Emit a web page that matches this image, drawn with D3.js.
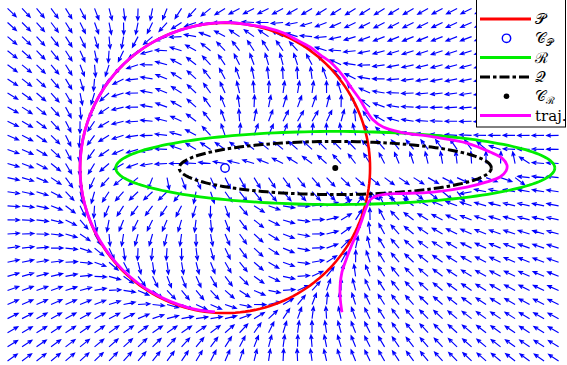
<!DOCTYPE html>
<html><head><meta charset="utf-8">
<script src="https://cdn.jsdelivr.net/npm/d3@7"></script>
<style>body{margin:0;background:#fff}svg{display:block}</style>
</head><body>
<script>
const W = 567, H = 365;

// visible window, data units
const xDomain = [-7.76, 11.79];
const yDomain = [-6.79, 5.79];

// desired path P: circle [cx, cy, r]
const circleP = [0, 0, 5];
// repulsive boundary Q and reactive boundary R: ellipses [cx, cy, a, b]
const ellipseQ = [3.8, 0, 5.38, 0.915];
const ellipseR = [3.8, 0, 7.57, 1.26];
// singular points of the two guiding fields
const pointCP = [0, 0];
const pointCR = [3.8, 0];

// quiver mesh: [first, last, count]
const meshX = [-7.5, 11.5, 39];
const meshY = [5.5, -6.65, 26];
// field gains: [path gain, obstacle gain]
const gains = [3, 1];

// simulated robot trajectory
const trajX = [4.03, 3.97, 3.97, 4.03, 4.17, 4.34, 4.55, 4.72, 4.86, 5.00, 5.21, 5.59, 6.03, 7.17, 8.34, 9.03, 9.48, 9.69, 9.72, 9.55, 9.14, 8.34, 7.17, 6.03, 5.45, 5.10, 4.86, 4.66, 4.41, 4.17, 3.90, 3.62, 3.28, 2.93, 2.48, 2.00, 1.45, 0.86, 0.00, -1.29, -2.50, -3.54, -4.33, -4.83, -5.00, -4.83, -4.32, -3.52, -2.48, -1.28, -0.35];
const trajY = [-4.97, -4.48, -4.03, -3.59, -3.17, -2.72, -2.24, -1.79, -1.38, -1.10, -0.97, -0.90, -0.88, -0.83, -0.66, -0.48, -0.31, -0.10, 0.10, 0.34, 0.55, 0.86, 1.07, 1.24, 1.41, 1.66, 2.00, 2.34, 2.69, 3.03, 3.38, 3.66, 3.90, 4.17, 4.41, 4.66, 4.83, 4.93, 5.02, 4.83, 4.33, 3.54, 2.50, 1.29, 0.00, -1.29, -2.49, -3.52, -4.31, -4.81, -4.96];

const legendItems = ["P", "CP", "R", "Q", "CR", "traj"];

const x = d3.scaleLinear().domain(xDomain).range([0, W]);
const y = d3.scaleLinear().domain(yDomain).range([H, 0]);

const svg = d3.select("body").append("svg").attr("width", W).attr("height", H);

// ---------- composite guiding vector field ----------
function unit(v) { const n = Math.hypot(v[0], v[1]) || 1; return [v[0] / n, v[1] / n]; }
function bumpSide(t) { return t > 0 ? Math.exp(-1 / t) : 0; }
function field(px, py) {
  const [cx, cy, r] = circleP;
  const dx = px - cx, dy = py - cy;
  const phiP = (dx * dx + dy * dy) / (r * r) - 1;
  const n = unit([dx, dy]);
  const vP = unit([-n[1] - gains[0] * phiP * n[0], n[0] - gains[0] * phiP * n[1]]);

  const [qx, qy, qa, qb] = ellipseQ;
  const ex = (px - qx) / qa, ey = (py - qy) / qb;
  const phiQ = ex * ex + ey * ey - 1;
  const m = unit([ex / qa, ey / qb]);
  const vQ = unit([-m[1] + gains[1] * m[0], m[0] + gains[1] * m[1]]);

  const s = bumpSide(1 - phiQ) / (bumpSide(1 - phiQ) + bumpSide(phiQ));
  return unit([(1 - s) * vP[0] + s * vQ[0], (1 - s) * vP[1] + s * vQ[1]]);
}

const gx = d3.range(meshX[2]).map(i => meshX[0] + i * (meshX[1] - meshX[0]) / (meshX[2] - 1));
const gy = d3.range(meshY[2]).map(j => meshY[0] + j * (meshY[1] - meshY[0]) / (meshY[2] - 1));
const arrows = [];
gy.forEach(yy => gx.forEach(xx => arrows.push({ x: xx, y: yy, v: field(xx, yy) })));

const arrowLen = 0.41, headLen = 4.5, headAng = 0.4;
svg.append("g").selectAll("path").data(arrows).join("path")
  .attr("fill", "none").attr("stroke", "#0000ff").attr("stroke-width", 1.15)
  .attr("d", d => {
    const x0 = x(d.x), y0 = y(d.y);
    const x1 = x(d.x + arrowLen * d.v[0]), y1 = y(d.y + arrowLen * d.v[1]);
    const a = Math.atan2(y1 - y0, x1 - x0);
    const h1 = [x1 - headLen * Math.cos(a - headAng), y1 - headLen * Math.sin(a - headAng)];
    const h2 = [x1 - headLen * Math.cos(a + headAng), y1 - headLen * Math.sin(a + headAng)];
    return `M${x0},${y0}L${x1},${y1}M${h1[0]},${h1[1]}L${x1},${y1}L${h2[0]},${h2[1]}`;
  });

// ---------- curves ----------
const angles = d3.range(0, 361, 2).map(a => a * Math.PI / 180);
const line = d3.line().x(d => x(d[0])).y(d => y(d[1]));

svg.append("path").datum(angles.map(t => [circleP[0] + circleP[2] * Math.cos(t), circleP[1] + circleP[2] * Math.sin(t)]))
  .attr("d", line).attr("fill", "none").attr("stroke", "#ff0000").attr("stroke-width", 2.6);

svg.append("circle").attr("cx", x(pointCP[0])).attr("cy", y(pointCP[1])).attr("r", 4.2)
  .attr("fill", "none").attr("stroke", "#0000ff").attr("stroke-width", 1.4);

svg.append("path").datum(angles.map(t => [ellipseR[0] + ellipseR[2] * Math.cos(t), ellipseR[1] + ellipseR[3] * Math.sin(t)]))
  .attr("d", line).attr("fill", "none").attr("stroke", "#00ee00").attr("stroke-width", 2.8);

svg.append("path").datum(angles.map(t => [ellipseQ[0] + ellipseQ[2] * Math.cos(t), ellipseQ[1] + ellipseQ[3] * Math.sin(t)]))
  .attr("d", line).attr("fill", "none").attr("stroke", "#000").attr("stroke-width", 3)
  .attr("stroke-dasharray", "10,3,3.5,3");

svg.append("circle").attr("cx", x(pointCR[0])).attr("cy", y(pointCR[1])).attr("r", 3).attr("fill", "#000");

svg.append("path").datum(trajX.map((v, i) => [v, trajY[i]]))
  .attr("d", d3.line().x(d => x(d[0])).y(d => y(d[1])).curve(d3.curveCatmullRom))
  .attr("fill", "none").attr("stroke", "#ff00ff").attr("stroke-width", 2.8);

// ---------- legend ----------
const lg = svg.append("g").attr("transform", "translate(476,-1)");
lg.append("rect").attr("x", 0.5).attr("y", 0.5).attr("width", 89).attr("height", 127.5)
  .attr("fill", "#fff").attr("stroke", "#000").attr("stroke-width", 1);
const rowY = i => 20 + i * 19.3;
const font = "DejaVu Serif";
legendItems.forEach((k, i) => {
  const yy = rowY(i);
  if (k === "P" || k === "R" || k === "Q" || k === "traj") {
    const col = { P: "#ff0000", R: "#00ee00", Q: "#000", traj: "#ff00ff" }[k];
    const ln = lg.append("line").attr("x1", 4).attr("x2", 55).attr("y1", yy).attr("y2", yy)
      .attr("stroke", col).attr("stroke-width", 3);
    if (k === "Q") ln.attr("stroke-dasharray", "10,3,3.5,3");
  } else if (k === "CP") {
    lg.append("circle").attr("cx", 30.5).attr("cy", yy).attr("r", 4.2).attr("fill", "none")
      .attr("stroke", "#0000ff").attr("stroke-width", 1.4);
  } else {
    lg.append("circle").attr("cx", 30.5).attr("cy", yy).attr("r", 2.8).attr("fill", "#000");
  }
  const t = lg.append("text").attr("x", 59).attr("y", yy + 5).attr("font-family", font)
    .attr("font-size", 15).attr("fill", "#000");
  if (k === "P") t.text("\u{1D4AB}");
  else if (k === "R") t.text("\u211B");
  else if (k === "Q") t.text("\u{1D4AC}");
  else if (k === "traj") t.text("traj.");
  else {
    t.text("\u{1D49E}");
    t.append("tspan").attr("font-size", 10).attr("dy", 3).text(k === "CP" ? "\u{1D4AB}" : "\u211B");
  }
});
</script>
</body></html>
